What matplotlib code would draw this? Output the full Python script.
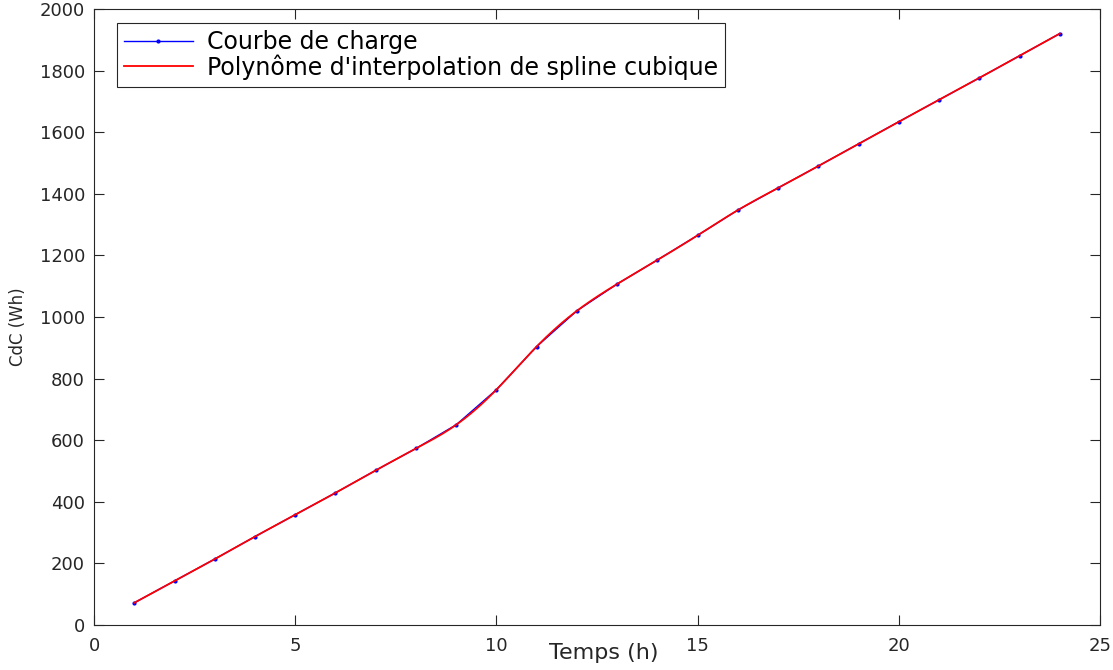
import numpy as np
import matplotlib.pyplot as plt

plt.rcParams['font.family'] = ['DejaVu Sans']

# heures et courbe de charge (Wh)
temps = [1, 2, 3, 4, 5, 6, 7, 8, 9, 10, 11, 12,
         13, 14, 15, 16, 17, 18, 19, 20, 21, 22, 23, 24]
cdc = [72, 143, 214, 287, 358, 429, 502, 573, 650, 764, 904, 1020,
       1107, 1185, 1265, 1347, 1419, 1490, 1562, 1634, 1705, 1776, 1848, 1920]


def spline_cubique(x, y, xx):
    # spline cubique naturelle
    x = np.asarray(x, float)
    y = np.asarray(y, float)
    n = len(x)
    h = np.diff(x)
    A = np.zeros((n, n))
    b = np.zeros(n)
    A[0, 0] = 1
    A[-1, -1] = 1
    for i in range(1, n - 1):
        A[i, i - 1] = h[i - 1]
        A[i, i] = 2 * (h[i - 1] + h[i])
        A[i, i + 1] = h[i]
        b[i] = 3 * ((y[i + 1] - y[i]) / h[i] - (y[i] - y[i - 1]) / h[i - 1])
    c = np.linalg.solve(A, b)
    idx = np.clip(np.searchsorted(x, xx) - 1, 0, n - 2)
    dx = xx - x[idx]
    bb = (y[idx + 1] - y[idx]) / h[idx] - h[idx] * (2 * c[idx] + c[idx + 1]) / 3
    dd = (c[idx + 1] - c[idx]) / (3 * h[idx])
    return y[idx] + bb * dx + c[idx] * dx**2 + dd * dx**3


xx = np.linspace(temps[0], temps[-1], 500)
yy = spline_cubique(temps, cdc, xx)

fig = plt.figure(figsize=(11.13, 6.70), dpi=100)
ax = fig.add_axes([0.0845, 0.0672, 0.9038, 0.9194])

ax.plot(temps, cdc, color='blue', marker='.', markersize=4, linewidth=1.0,
        label='Courbe de charge')
ax.plot(xx, yy, color='red', linewidth=1.3,
        label="Polynôme d'interpolation de spline cubique")

ax.set_xlim(0, 25)
ax.set_ylim(0, 2000)
ax.set_xticks(np.arange(0, 26, 5))
ax.set_yticks(np.arange(0, 2001, 200))
ax.tick_params(direction='in', top=True, right=True, labelsize=13,
               length=7, width=0.8, colors='#262626', pad=6.5)
ax.tick_params(axis='x', pad=9)
for s in ax.spines.values():
    s.set_color('#262626')
    s.set_linewidth(0.8)

ax.set_xlabel('Temps (h)', fontsize=16, color='#262626')
ax.xaxis.set_label_coords(0.507, -0.029)
ax.set_ylabel('CdC (Wh)', fontsize=12, color='#262626')
ax.yaxis.set_label_coords(-0.0666, 0.484)

leg = ax.legend(loc='upper left', bbox_to_anchor=(0.0229, 0.977),
                borderaxespad=0, fontsize=17, fancybox=False,
                edgecolor='#262626', framealpha=1,
                handlelength=2.9, handletextpad=0.6,
                borderpad=0.3, labelspacing=0.0)
leg.get_frame().set_linewidth(0.8)

fig.savefig('out.png', dpi=100)
